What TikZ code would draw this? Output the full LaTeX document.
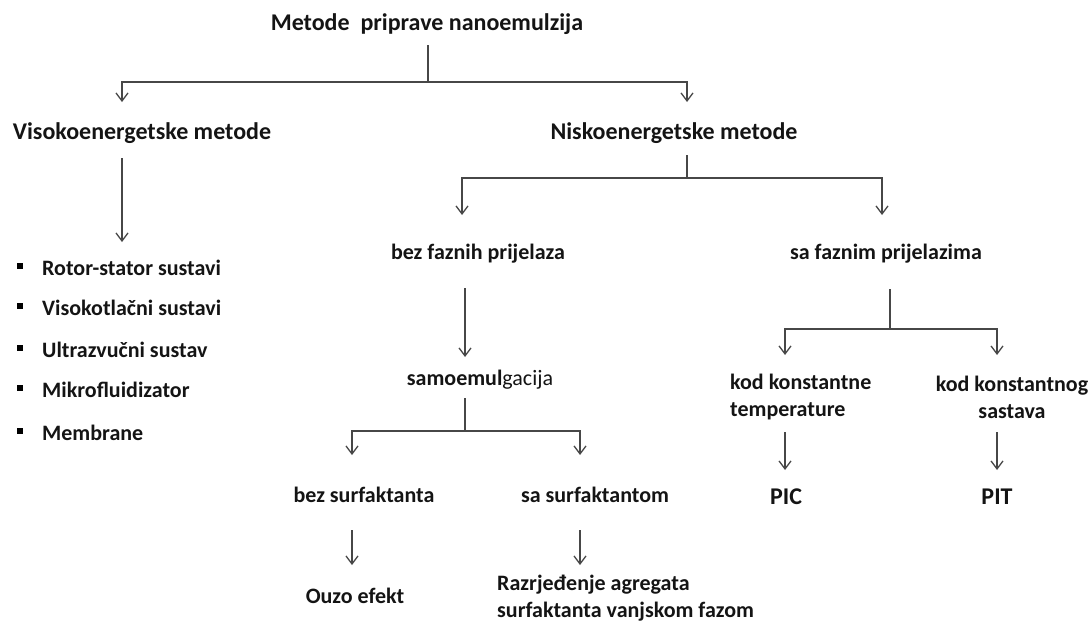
\documentclass[tikz,border=0pt]{standalone}
\usepackage{fontspec}
\setmainfont{Carlito}
\usetikzlibrary{arrows.meta}
\begin{document}
\begin{tikzpicture}[x=1pt,y=-1pt,
  lbl/.style={inner sep=0pt,font=\fontsize{22}{27}\selectfont\bfseries,text=black!92},
  hdr/.style={inner sep=0pt,font=\fontsize{24}{29}\selectfont\bfseries,text=black!92},
  ln/.style={draw=black!72,line width=1.3pt},
  arr/.style={ln,-{Straight Barb[length=8pt,width=12pt,line width=1.3pt]}},
  bsq/.style={fill=black,minimum size=5.5pt,inner sep=0pt}]
\useasboundingbox (0,0) rectangle (1091,622);
% nodes
\node[hdr] (title) at (427,24) {Metode~~priprave nanoemulzija};
\node[hdr] (viso) at (142,133) {Visokoenergetske metode};
\node[hdr] (nisko) at (674,133) {Niskoenergetske metode};
\foreach \y/\t [count=\i] in {268/Rotor-stator sustavi,308/Visokotlačni sustavi,350/Ultrazvučni sustav,390/Mikrofluidizator,433/Membrane}{
  \node[bsq] (bq\i) at (20,\y-2) {};
  \node[lbl,anchor=west] (b\i) at (42,\y) {\t};
}
\node[lbl] (bez) at (478,254) {bez faznih prijelaza};
\node[lbl] (sa) at (886,254) {sa faznim prijelazima};
\node[lbl] (samo) at (480,380) {samoemul\mdseries gacija};
\node[lbl] (bezs) at (364,495) {bez surfaktanta};
\node[lbl] (sas) at (595,495) {sa surfaktantom};
\node[lbl] (ouzo) at (355,596) {Ouzo efekt};
\node[lbl,anchor=west,align=left] (razr) at (497,598) {Razrjeđenje agregata\\surfaktanta vanjskom fazom};
\node[lbl,anchor=west,align=left] (kkt) at (730,397) {kod konstantne\\temperature};
\node[lbl,align=center] (kks) at (1012,397) {kod konstantnog\\sastava};
\node[hdr] (pic) at (786,497) {PIC};
\node[hdr] (pit) at (997,497) {PIT};
% connector points
\coordinate (t1) at (428,45); \coordinate (j1) at (428,82);
\coordinate (a1) at (122,102); \coordinate (a2) at (687,102);
\coordinate (v1) at (122,158); \coordinate (v2) at (122,242);
\coordinate (n1) at (687,155); \coordinate (j2) at (687,178);
\coordinate (a3) at (462,215); \coordinate (a4) at (882,215);
\coordinate (z1) at (465,288); \coordinate (z2) at (465,357);
\coordinate (s1) at (465,398); \coordinate (j3) at (465,431);
\coordinate (a5) at (352,455); \coordinate (a6) at (580,455);
\coordinate (c1) at (352,530); \coordinate (c2) at (352,565);
\coordinate (d1) at (580,530); \coordinate (d2) at (580,565);
\coordinate (f1) at (890,289); \coordinate (j4) at (890,329);
\coordinate (a7) at (785,355); \coordinate (a8) at (997,355);
\coordinate (g1) at (785,432); \coordinate (g2) at (785,470);
\coordinate (h1) at (997,432); \coordinate (h2) at (997,470);
% connectors
\draw[ln] (t1) -- (j1);
\draw[arr] (j1) -| (a1);
\draw[arr] (j1) -| (a2);
\draw[arr] (v1) -- (v2);
\draw[ln] (n1) -- (j2);
\draw[arr] (j2) -| (a3);
\draw[arr] (j2) -| (a4);
\draw[arr] (z1) -- (z2);
\draw[ln] (s1) -- (j3);
\draw[arr] (j3) -| (a5);
\draw[arr] (j3) -| (a6);
\draw[arr] (c1) -- (c2);
\draw[arr] (d1) -- (d2);
\draw[ln] (f1) -- (j4);
\draw[arr] (j4) -| (a7);
\draw[arr] (j4) -| (a8);
\draw[arr] (g1) -- (g2);
\draw[arr] (h1) -- (h2);
\end{tikzpicture}
\end{document}
